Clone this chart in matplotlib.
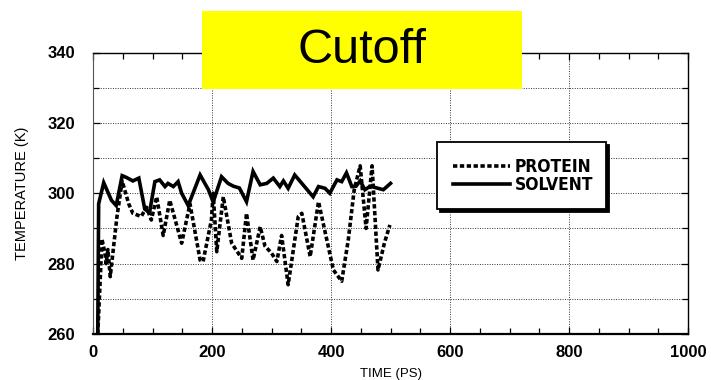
import numpy as np
import matplotlib
matplotlib.use("Agg")
import matplotlib.pyplot as plt
import matplotlib.ticker as mticker
from matplotlib.patches import Rectangle

# -------------------------------------------
################ DATA ################

solvent_t = [8, 9.5, 18, 31, 39, 49, 56, 67, 77, 87, 95, 104, 112, 121, 126,
             135, 143, 149, 160, 180, 194, 202, 216, 227, 236, 246, 258, 269,
             281, 292, 303, 314, 320, 328, 339, 351, 370, 379, 390, 398, 410,
             418, 426, 435, 442, 449, 457, 466, 477, 488, 500]
solvent_T = [260, 297, 303, 298, 296.5, 305, 304.5, 303.5, 304.3, 295.5, 294.5,
             303.3, 303.8, 301.9, 302.8, 301.9, 303.3, 300, 296.5, 305.2, 301,
             297.5, 304.7, 302.8, 302, 301.5, 297.6, 306.2, 302.4, 302.8, 304.3,
             301.9, 303.5, 301.4, 305.2, 302.8, 299, 301.9, 301.4, 300, 303.8,
             303.3, 305.8, 301.9, 302, 303.5, 301, 302, 301.5, 301, 302.8]

protein_t = [8, 12, 15, 20, 22, 25, 29, 40, 49, 60, 67, 81, 90, 98, 107, 118,
             129, 149, 163, 180, 185, 199, 202, 208, 219, 233, 250, 258, 269,
             281, 289, 300, 309, 317, 328, 345, 351, 365, 379, 404, 418, 429,
             439, 449, 459, 469, 479, 490, 499]
protein_T = [260, 275, 287, 283, 280, 284, 276.3, 293, 303.5, 297, 294.3, 293.4,
             296, 292.4, 299, 288, 298, 285.8, 297, 281, 280.6, 292.4, 300, 283.4,
             299, 285.8, 281.5, 294.3, 281, 290.5, 285, 283, 280.6, 288, 274,
             293.4, 294.3, 282, 297.6, 278.2, 275, 286.7, 301, 307.8, 290, 307.8,
             278.2, 286, 291]

series_labels = ["PROTEIN", "SOLVENT"]
title_text = "Cutoff"

# -------------------------------------------
################ FIGURE ################

W, H = 711, 380
fig = plt.figure(figsize=(W / 100, H / 100), dpi=100, facecolor="white")
ax = fig.add_axes([93 / W, 1 - 334 / H, 595 / W, 281.5 / H])

font = ["Liberation Sans", "DejaVu Sans"]

ax.plot(protein_t, protein_T, color="black", lw=2.6,
        linestyle=(0, (1.2, 0.7)), label=series_labels[0], zorder=3)
ax.plot(solvent_t, solvent_T, color="black", lw=2.6, solid_joinstyle="miter",
        label=series_labels[1], zorder=3)

ax.set_xlim(0, 1000)
ax.set_ylim(260, 340)
ax.xaxis.set_major_locator(mticker.MultipleLocator(200))
ax.xaxis.set_minor_locator(mticker.MultipleLocator(50))
ax.yaxis.set_major_locator(mticker.MultipleLocator(20))
ax.yaxis.set_minor_locator(mticker.MultipleLocator(10))

ax.grid(which="major", axis="x", color="black", lw=0.7, linestyle=(0, (1, 1.5)), alpha=0.8)
ax.grid(which="both", axis="y", color="black", lw=0.7, linestyle=(0, (1, 1.5)), alpha=0.8)

ax.tick_params(which="both", direction="in", top=True, right=True, color="black")
ax.tick_params(which="major", length=5, width=0.9)
ax.tick_params(which="minor", length=4, width=0.9)
ax.tick_params(axis="x", pad=8)
ax.tick_params(axis="y", pad=13)
for lab in ax.get_xticklabels() + ax.get_yticklabels():
    lab.set_fontfamily(font)
    lab.set_fontsize(12)
    lab.set_fontweight("bold")

ax.spines["bottom"].set_linewidth(1.6)
ax.spines["left"].set_linewidth(0.8)
ax.spines["left"].set_color("#555555")
ax.spines["top"].set_linewidth(1.0)
ax.spines["right"].set_linewidth(1.0)

ax.set_xlabel("TIME (PS)", fontsize=9.5, family=font)
ax.set_ylabel("TEMPERATURE (K)", fontsize=10.5, family=font)
ax.xaxis.set_label_coords(0.5, -0.12)
ax.yaxis.set_label_coords(-0.107, 0.5)

leg = ax.legend(loc="upper left", bbox_to_anchor=(437 / W, 1 - 146 / H, 169 / W, 0.01),
                bbox_transform=fig.transFigure, mode="expand",
                frameon=True, fancybox=False, shadow={"color": "black", "alpha": 1},
                edgecolor="black", borderpad=0.9, labelspacing=0.0,
                handlelength=3.3, handletextpad=0.3, borderaxespad=0,
                prop={"family": "DejaVu Sans", "stretch": "condensed",
                      "weight": "bold", "size": 12.5})
leg.get_frame().set_linewidth(1.3)
leg.set_zorder(5)

# yellow title box over the top of the plot
fig.add_artist(Rectangle((202 / W, 1 - 89 / H), 320 / W, 78 / H,
                         transform=fig.transFigure, facecolor="#FFFF00",
                         edgecolor="none", zorder=10))
fig.text(362 / W, 1 - 50.5 / H, title_text, ha="center", va="center",
         fontsize=35, family=font, color="black", zorder=11)

plt.savefig("out.png", dpi=100)
